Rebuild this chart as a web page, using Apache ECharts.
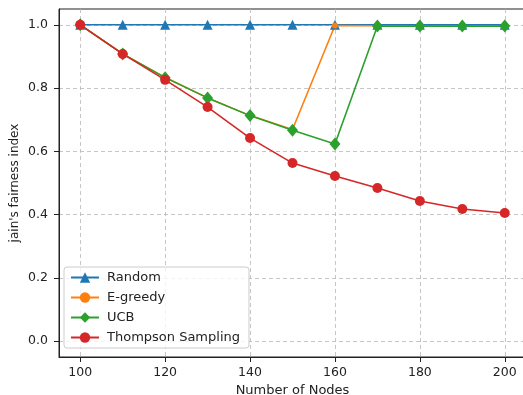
<!DOCTYPE html>
<html>
<head>
<meta charset="utf-8">
<script src="https://cdn.jsdelivr.net/npm/echarts@6/dist/echarts.min.js"></script>
<style>
  html, body { margin: 0; padding: 0; background: #fff; }
  #chart { width: 523px; height: 395px; }
</style>
</head>
<body>
<div id="chart"></div>
<script>
const nodes = [100, 110, 120, 130, 140, 150, 160, 170, 180, 190, 200]
const random = [1.0, 1.0, 1.0, 1.0, 1.0, 1.0, 1.0, 1.0, 1.0, 1.0, 1.0]
const egreedy = [1.0, 0.908, 0.834, 0.769, 0.713, 0.669, 0.998, 0.997, 0.997, 0.997, 0.997]
const ucb = [1.0, 0.908, 0.833, 0.769, 0.713, 0.667, 0.623, 0.996, 0.996, 0.996, 0.996]
const thompson = [1.0, 0.908, 0.826, 0.740, 0.642, 0.563, 0.522, 0.484, 0.443, 0.418, 0.405]
const xTicks = [100, 120, 140, 160, 180, 200]
const yTicks = [0.0, 0.2, 0.4, 0.6, 0.8, 1.0]

const font = 'DejaVu Sans'
const pairs = arr => nodes.map((n, i) => [n, arr[i]])

function line(name, data, color, symbol, size) {
  return {
    name: name,
    type: 'line',
    data: pairs(data),
    symbol: symbol,
    symbolSize: size,
    showAllSymbol: true,
    lineStyle: { color: color, width: 1.6 },
    itemStyle: { color: color },
    emphasis: { disabled: true },
    animation: false
  }
}

const chart = echarts.init(document.getElementById('chart'))
chart.setOption({
  animation: false,
  textStyle: { fontFamily: font },
  grid: {
    left: 59, top: 9, width: 467, height: 348,
    outerBoundsMode: 'none', containLabel: false,
    show: true, borderColor: '#222', borderWidth: 1, backgroundColor: 'transparent'
  },
  legend: {
    orient: 'vertical',
    left: 64, top: 267,
    padding: [4, 9, 4, 6],
    itemWidth: 28, itemHeight: 13, itemGap: 7,
    backgroundColor: 'rgba(255,255,255,0.8)',
    borderColor: '#ccc', borderWidth: 1, borderRadius: 3,
    textStyle: { fontFamily: font, fontSize: 13, color: '#222', padding: [0, 0, 0, 3] },
    data: ['Random', 'E-greedy', 'UCB', 'Thompson Sampling']
  },
  xAxis: {
    type: 'value', min: 95, max: 205,
    name: 'Number of Nodes', nameLocation: 'middle', nameGap: 26,
    nameTextStyle: { fontFamily: font, fontSize: 13, color: '#222' },
    axisLine: { show: true, onZero: false, lineStyle: { color: '#222' } },
    axisTick: { show: true, length: 5, lineStyle: { color: '#222' }, customValues: xTicks },
    axisLabel: { fontFamily: font, fontSize: 12.5, color: '#222', margin: 9, customValues: xTicks },
    splitLine: { show: true, lineStyle: { color: '#b8b8b8', type: [4, 3], width: 0.8 } }
  },
  yAxis: {
    type: 'value', min: -0.05, max: 1.05,
    name: "jain's fairness index", nameLocation: 'middle', nameGap: 38,
    nameMoveOverlap: false,
    nameTextStyle: { fontFamily: font, fontSize: 12, color: '#222' },
    axisLine: { show: true, onZero: false, lineStyle: { color: '#222' } },
    axisTick: { show: true, length: 5, lineStyle: { color: '#222' }, customValues: yTicks },
    axisLabel: {
      fontFamily: font, fontSize: 12.5, color: '#222', margin: 11, customValues: yTicks,
      formatter: v => v.toFixed(1)
    },
    splitLine: { show: true, lineStyle: { color: '#b8b8b8', type: [4, 3], width: 0.8 } }
  },
  series: [
    line('Random', random, '#1f77b4', 'triangle', 10),
    line('E-greedy', egreedy, '#ff7f0e', 'circle', 6),
    line('UCB', ucb, '#2ca02c', 'diamond', [11, 13]),
    line('Thompson Sampling', thompson, '#d62728', 'circle', 10)
  ]
})
window.addEventListener('resize', () => {
  chart.resize()
})
</script>
</body>
</html>
